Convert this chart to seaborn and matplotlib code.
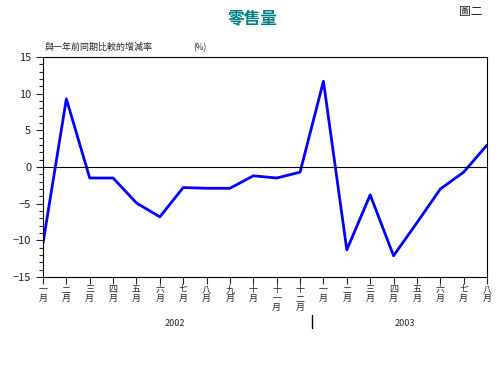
import pandas as pd
import matplotlib
matplotlib.use("Agg")
import matplotlib.pyplot as plt
import seaborn as sns
from matplotlib.ticker import MultipleLocator

months = ["一", "二", "三", "四", "五", "六", "七", "八", "九", "十", "十一", "十二",
          "一", "二", "三", "四", "五", "六", "七", "八"]
years = ["2002"] * 12 + ["2003"] * 8
growth = [-10.4, 9.3, -1.5, -1.5, -4.9, -6.8, -2.8, -2.9, -2.9, -1.2, -1.5, -0.7,
          11.7, -11.3, -3.8, -12.1, -7.6, -3.0, -0.7, 3.0]

df = pd.DataFrame({"idx": range(len(growth)), "month": months, "year": years, "growth": growth})

sns.set_style("ticks")
plt.rcParams["font.family"] = ["Noto Sans CJK TC", "DejaVu Sans"]

fig = plt.figure(figsize=(4.98, 3.68), dpi=100)
ax = fig.add_axes([0.0863, 0.2473, 0.8917, 0.5977])

sns.lineplot(data=df, x="idx", y="growth", color="#0000ff", linewidth=2, ax=ax)
ax.axhline(0, color="black", linewidth=0.8)

ax.set_xlim(0, len(growth) - 1)
ax.set_ylim(-15, 15)
ax.yaxis.set_major_locator(MultipleLocator(5))
ax.yaxis.set_minor_locator(MultipleLocator(1))
ax.set_xticks(df["idx"])
ax.set_xticklabels(["\n".join(list(m)) + "\n月" if len(m) > 1 else m + "\n月" for m in months],
                   fontsize=6.5, linespacing=1.0)
ax.tick_params(axis="y", labelsize=8, length=5, width=0.8, direction="out")
ax.tick_params(axis="y", which="minor", length=3, width=0.8)
ax.tick_params(axis="x", length=5, width=0.8, direction="out", pad=1)
ax.set_xlabel("")
ax.set_ylabel("")
for s in ax.spines.values():
    s.set_linewidth(0.8)
    s.set_color("black")

fig.text(0.506, 0.95, "零售量", ha="center", va="center", fontsize=12,
         fontweight="bold", color="#008080")
fig.text(0.945, 0.968, "圖二", ha="center", va="center", fontsize=8.5)
fig.text(0.09, 0.872, "與一年前同期比較的增減率", ha="left", va="center", fontsize=6.5)
fig.text(0.402, 0.87, "(%)", ha="center", va="center", fontsize=6)
fig.text(0.351, 0.122, "2002", ha="center", va="center", fontsize=6.5)
fig.text(0.813, 0.122, "2003", ha="center", va="center", fontsize=6.5)
fig.add_artist(plt.Line2D([0.627, 0.627], [0.108, 0.143], color="black", linewidth=1))

fig.savefig("out.png", dpi=100, facecolor="white")
